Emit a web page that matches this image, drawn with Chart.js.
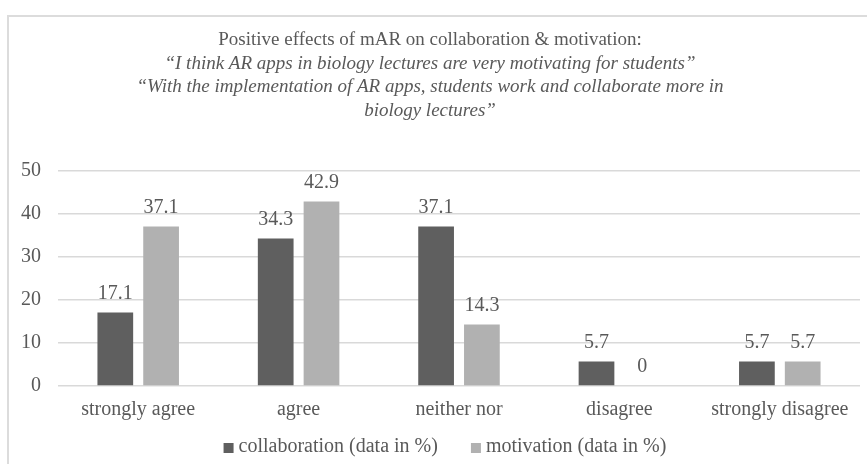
<!DOCTYPE html>
<html>
<head>
<meta charset="utf-8">
<script src="https://cdn.jsdelivr.net/npm/chart.js@4.4.1/dist/chart.umd.min.js"></script>
<style>
  html, body { margin: 0; padding: 0; background: #ffffff; overflow: hidden; }
  #frame { position: absolute; left: 7px; top: 15px; width: 900px; height: 500px; border: 2px solid #dcdcdc; box-sizing: border-box; }
  #wrap { position: absolute; left: 0; top: 0; width: 867px; height: 464px; }
</style>
</head>
<body>
<div id="frame"></div>
<div id="wrap"><canvas id="c" width="867" height="464"></canvas></div>
<script>
const categories = ["strongly agree", "agree", "neither nor", "disagree", "strongly disagree"];
const collaboration = [17.1, 34.3, 37.1, 5.7, 5.7];
const motivation = [37.1, 42.9, 14.3, 0, 5.7];
const seriesNames = ["collaboration (data in %)", "motivation (data in %)"];
const yTicks = [0, 10, 20, 30, 40, 50];
const titleLine = "Positive effects of mAR on collaboration & motivation:";
const subtitleLines = [
  "\u201CI think AR apps in biology lectures are very motivating for students\u201D",
  "\u201CWith the implementation of AR apps, students work and collaborate more in",
  "biology lectures\u201D"
];

const FONT = "'Liberation Serif', 'Times New Roman', serif";
const TEXT = "#595959";
const FS = 20;

const labelPlugin = {
  id: 'valueLabels',
  afterDatasetsDraw(chart) {
    const ctx = chart.ctx;
    ctx.save();
    ctx.font = FS + "px " + FONT;
    ctx.fillStyle = TEXT;
    ctx.textAlign = 'center';
    ctx.textBaseline = 'middle';
    chart.data.datasets.forEach((ds, di) => {
      const meta = chart.getDatasetMeta(di);
      meta.data.forEach((bar, i) => {
        ctx.fillText(String(ds.data[i]), bar.x, bar.y - 19);
      });
    });
    ctx.restore();
  }
};

const legendPlugin = {
  id: 'customLegend',
  afterDraw(chart) {
    const ctx = chart.ctx;
    ctx.save();
    ctx.font = FS + "px " + FONT;
    ctx.textBaseline = 'middle';
    ctx.textAlign = 'left';
    const box = 10, gapBoxText = 5, gapItems = 33;
    const items = chart.data.datasets.map(ds => ({ text: ds.label, color: ds.backgroundColor, w: ctx.measureText(ds.label).width }));
    let total = 0;
    items.forEach((it, i) => { total += box + gapBoxText + it.w + (i < items.length - 1 ? gapItems : 0); });
    let x = 445 - total / 2;
    const y = 446;
    items.forEach(it => {
      ctx.fillStyle = it.color;
      ctx.fillRect(x, y - 3, box, box);
      ctx.fillStyle = TEXT;
      ctx.fillText(it.text, x + box + gapBoxText, y + 1);
      x += box + gapBoxText + it.w + gapItems;
    });
    ctx.restore();
  }
};

new Chart(document.getElementById('c'), {
  type: 'bar',
  data: {
    labels: categories,
    datasets: [
      { label: seriesNames[0], data: collaboration, backgroundColor: '#5f5f5f', categoryPercentage: 0.571, barPercentage: 0.78 },
      { label: seriesNames[1], data: motivation, backgroundColor: '#b1b1b1', categoryPercentage: 0.571, barPercentage: 0.78 }
    ]
  },
  options: {
    responsive: false,
    animation: false,
    layout: { padding: { left: 0, right: 7, top: 0, bottom: 30 } },
    plugins: {
      title: {
        display: true,
        text: titleLine,
        color: TEXT,
        font: { family: FONT, size: 19, weight: 'normal', lineHeight: 1.2 },
        padding: { top: 29, bottom: 0 }
      },
      subtitle: {
        display: true,
        text: subtitleLines,
        color: TEXT,
        font: { family: FONT, size: 19, style: 'italic', weight: 'normal', lineHeight: 1.2368 },
        padding: { top: 0, bottom: 48.7 }
      },
      legend: { display: false },
      tooltip: { enabled: false }
    },
    scales: {
      x: {
        grid: { display: false, drawTicks: false },
        border: { display: false },
        ticks: { color: TEXT, font: { family: FONT, size: FS }, padding: 12, maxRotation: 0, autoSkip: false }
      },
      y: {
        min: 0,
        max: 50,
        afterBuildTicks(axis) { axis.ticks = yTicks.map(v => ({ value: v })); },
        afterFit(axis) { axis.width = 58; },
        grid: { color: '#d9d9d9', lineWidth: 1.5, drawTicks: false },
        border: { display: false },
        ticks: { color: TEXT, font: { family: FONT, size: FS }, padding: 17 }
      }
    }
  },
  plugins: [labelPlugin, legendPlugin]
});
</script>
</body>
</html>
